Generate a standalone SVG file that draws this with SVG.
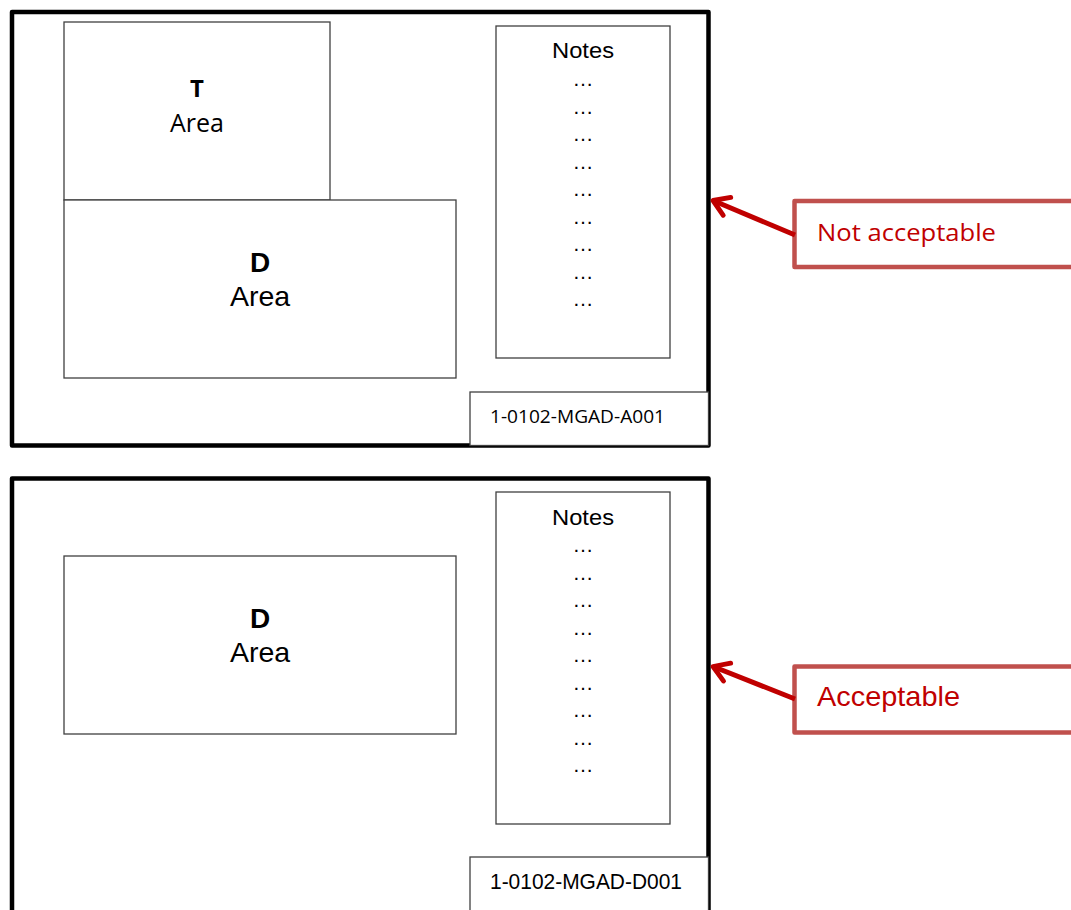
<svg xmlns="http://www.w3.org/2000/svg" width="1071" height="910" viewBox="0 0 1071 910">
<style>
.frame{fill:#fff;stroke:#000;stroke-width:4.5;stroke-linejoin:round}
.box{fill:#fff;stroke:#404040;stroke-width:1.3}
.cal{font-family:"Open Sans","Liberation Sans",sans-serif;fill:#000}
.ari{font-family:"Liberation Sans",Arial,sans-serif;fill:#000}
.callout{fill:#fff;stroke:#C0504D;stroke-width:4.5;stroke-linejoin:round}
.arrow{fill:none;stroke:#C00000;stroke-width:5;stroke-linecap:butt}
.red{fill:#C00000}
</style>
<defs>
<marker id="ah" viewBox="0 0 10 10" refX="8.2" refY="5" markerWidth="4.6" markerHeight="4.6" orient="auto" markerUnits="strokeWidth" overflow="visible">
<path d="M1.6,0.8 L8.2,5 L1.6,9.2" fill="none" stroke="#C00000" stroke-width="2.1" stroke-linecap="round" stroke-linejoin="round"/>
</marker>
</defs>
<rect width="1071" height="910" fill="#fff"/>

<g id="sheet-top">
<rect class="frame" x="12" y="12" width="696.5" height="433.5"/>
<g id="t-area">
<rect class="box" x="64" y="22" width="266" height="178"/>
<text class="cal" x="197" y="97" font-size="24" font-weight="bold" text-anchor="middle">T</text>
<text class="cal" x="197" y="132" font-size="25" text-anchor="middle">Area</text>
</g>
<g id="d-area-top">
<rect class="box" x="64" y="200" width="392" height="178"/>
<text class="ari" x="260" y="272" font-size="28" font-weight="bold" text-anchor="middle">D</text>
<text class="ari" x="260" y="306" font-size="28.5" text-anchor="middle">Area</text>
</g>
<g id="notes-top">
<rect class="box" x="496" y="26" width="174" height="332"/>
<text class="ari" x="583" y="58" font-size="21.5" text-anchor="middle" textLength="62" lengthAdjust="spacingAndGlyphs">Notes</text>
<g class="ari" font-size="21" text-anchor="middle">
<text x="583" y="86">…</text><text x="583" y="113.5">…</text><text x="583" y="141">…</text>
<text x="583" y="168.5">…</text><text x="583" y="196">…</text><text x="583" y="223.5">…</text>
<text x="583" y="251">…</text><text x="583" y="278.5">…</text><text x="583" y="306">…</text>
</g>
</g>
<g id="title-top">
<rect class="box" x="470" y="392" width="238.5" height="53.5"/>
<text class="cal" x="490" y="423" font-size="18.5" textLength="175" lengthAdjust="spacingAndGlyphs">1-0102-MGAD-A001</text>
</g>
</g>

<g id="sheet-bottom">
<path class="frame" d="M12,915 L12,478.5 L708.5,478.5 L708.5,915"/>
<g id="d-area-bottom">
<rect class="box" x="64" y="556" width="392" height="178"/>
<text class="ari" x="260" y="628" font-size="28" font-weight="bold" text-anchor="middle">D</text>
<text class="ari" x="260" y="662" font-size="28.5" text-anchor="middle">Area</text>
</g>
<g id="notes-bottom">
<rect class="box" x="496" y="492" width="174" height="332"/>
<text class="ari" x="583" y="525" font-size="21.5" text-anchor="middle" textLength="62" lengthAdjust="spacingAndGlyphs">Notes</text>
<g class="ari" font-size="21" text-anchor="middle">
<text x="583" y="552">…</text><text x="583" y="579.5">…</text><text x="583" y="607">…</text>
<text x="583" y="634.5">…</text><text x="583" y="662">…</text><text x="583" y="689.5">…</text>
<text x="583" y="717">…</text><text x="583" y="744.5">…</text><text x="583" y="772">…</text>
</g>
</g>
<g id="title-bottom">
<rect class="box" x="470" y="857" width="238.5" height="60"/>
<text class="ari" x="490" y="889" font-size="22" textLength="192" lengthAdjust="spacingAndGlyphs">1-0102-MGAD-D001</text>
</g>
</g>

<g id="callout-top">
<rect class="callout" x="794.5" y="201" width="290" height="66"/>
<text class="cal red" x="817" y="241" font-size="24" textLength="179" lengthAdjust="spacingAndGlyphs">Not acceptable</text>
</g>
<g id="callout-bottom">
<rect class="callout" x="794.5" y="666.5" width="290" height="66"/>
<text class="ari red" x="817" y="706" font-size="28" textLength="143" lengthAdjust="spacingAndGlyphs">Acceptable</text>
</g>

<g id="connectors">
<line class="arrow" x1="795" y1="235" x2="713" y2="200.5" marker-end="url(#ah)"/>
<line class="arrow" x1="795" y1="699" x2="713" y2="666.5" marker-end="url(#ah)"/>
</g>
</svg>
